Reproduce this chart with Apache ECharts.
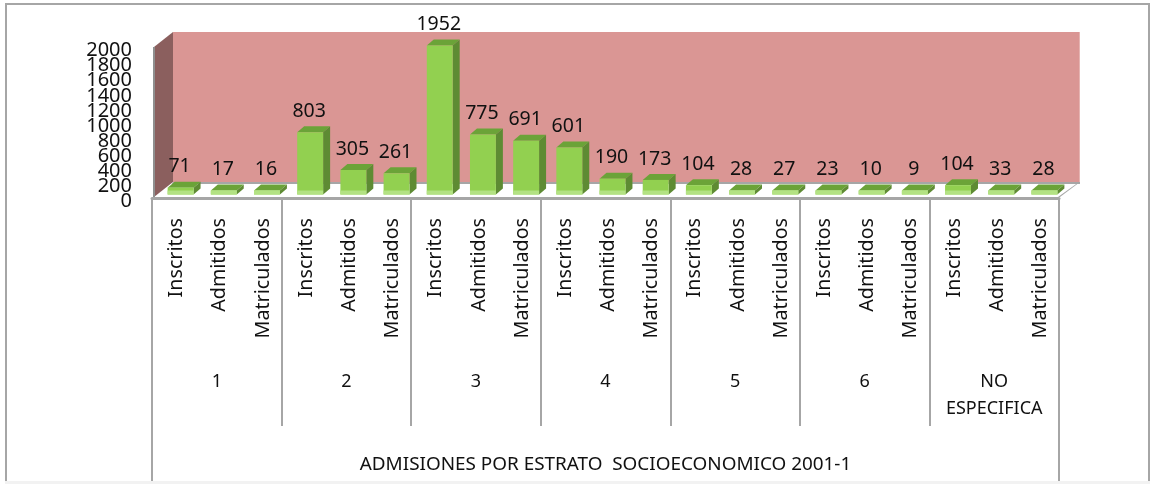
<!DOCTYPE html>
<html><head><meta charset="utf-8">
<style>html,body{margin:0;padding:0;background:#fff}#c{width:1154px;height:484px}</style>
<script src="https://cdn.jsdelivr.net/npm/echarts@6/dist/echarts.min.js"></script>
</head><body><div id="c"></div>
<script>
var measures = ['Inscritos','Admitidos','Matriculados'];
var strata = ['1','2','3','4','5','6','NO\nESPECIFICA'];
var chartTitle = 'ADMISIONES POR ESTRATO  SOCIOECONOMICO 2001-1';
var values = [71,17,16, 803,305,261, 1952,775,691, 601,190,173, 104,28,27, 23,10,9, 104,33,28];
var categories = [];
strata.forEach(function(){ measures.forEach(function(m){ categories.push(m); }); });

var FONT = '"Noto Sans", sans-serif';
var TXT = '#111';
var GREY = '#A6A6A6';
var DX = 7, DY = 6, SHIFT_X = 7, BASE = 5, FOOT = 3.5, MIN_FRONT = 4, WALL_X = 21, WALL_Y = 15;

function poly(pts, fill){ return {type:'polygon', shape:{points:pts}, style:{fill:fill}}; }

function renderWalls(params, api){
  var c = params.coordSys;
  var l = c.x + 2, r = c.x + c.width, t = c.y, b = c.y + c.height - 1;
  return {type:'group', children:[
    poly([[l+WALL_X-2,t-WALL_Y],[r+WALL_X,t-WALL_Y],[r+WALL_X,b-WALL_Y],[l+WALL_X-2,b-WALL_Y]], '#DA9694'),
    poly([[r+WALL_X-1,t-WALL_Y],[r+WALL_X,t-WALL_Y],[r+WALL_X,b-WALL_Y],[r+WALL_X-1,b-WALL_Y]], '#E6B4B2'),
    poly([[l,t],[l+WALL_X-2,t-WALL_Y],[l+WALL_X-2,b-WALL_Y],[l,b]], '#8B5F5E'),
    poly([[l-1,t],[l+1,t],[l+1,b],[l-1,b]], '#8F8F8F'),
    poly([[l+WALL_X-2,b-WALL_Y],[r+WALL_X,b-WALL_Y],[r+WALL_X,b-WALL_Y+2],[l+WALL_X-3,b-WALL_Y+2]], GREY),
    poly([[r-1,b],[r+WALL_X-1,b-WALL_Y],[r+WALL_X,b-WALL_Y],[r+1,b]], GREY)
  ]};
}

function renderBar(params, api){
  var i = api.value(0), v = api.value(1);
  var p = api.coord([i, v]), z = api.coord([i, 0]);
  var w = api.size([1,0])[0] * 0.6;
  var x0 = p[0] - w/2 + SHIFT_X, x1 = x0 + w;
  var bot = z[1] - FOOT;
  var top = Math.min(p[1] - BASE, bot - MIN_FRONT);
  var strip = 4;
  return {type:'group', children:[
    poly([[x0,top],[x0+DX,top-DY],[x1+DX,top-DY],[x1,top]], '#6BA338'),
    poly([[x1,top],[x1+DX,top-DY],[x1+DX,bot-DY],[x1,bot]], '#5E8B33'),
    {type:'rect', shape:{x:x0,y:top,width:w,height:bot-top}, style:{fill:'#92D050'}},
    {type:'rect', shape:{x:x0,y:bot-strip,width:w,height:strip}, style:{fill:'#B3E283'}},
    {type:'text', x:(x0+x1)/2 - 1, y:top-21, style:{text:String(v), fill:TXT, font:'19.5px '+FONT, align:'center', verticalAlign:'middle'}}
  ]};
}

var yLabel = {margin:20, color:TXT, fontFamily:FONT, fontSize:20, lineHeight:7, verticalAlign:'top', hideOverlap:false,
  formatter:function(v){return String(v);}};

var chart = echarts.init(document.getElementById('c'), null, {renderer:'canvas'});
chart.setOption({
  animation:false,
  backgroundColor:'#fff',
  graphic:[
    {type:'rect', z:-1, silent:true, shape:{x:6,y:4,width:1143,height:478}, style:{fill:'none',stroke:'#A6A6A6',lineWidth:2}},
    {type:'rect', z:0, silent:true, shape:{x:5,y:481,width:1145,height:3}, style:{fill:'#F2F2F2'}}
  ],
  grid:{left:152, top:47, width:907, height:151, containLabel:false},
  xAxis:[
    {type:'category', gridIndex:0, data:categories, position:'bottom',
     axisLine:{show:true, lineStyle:{color:GREY,width:3}}, axisTick:{show:false},
     axisLabel:{interval:0, rotate:90, margin:20, color:TXT, fontFamily:FONT, fontSize:19.7, lineHeight:6, verticalAlign:'top'}},
    {type:'category', gridIndex:0, data:strata, position:'bottom',
     axisLine:{show:false}, axisTick:{show:true, length:228, lineStyle:{color:GREY,width:2}},
     axisLabel:{interval:0, margin:170, verticalAlign:'top', lineHeight:27, color:TXT, fontFamily:FONT, fontSize:18}},
    {type:'category', gridIndex:0, data:[chartTitle], position:'bottom',
     axisLine:{show:false}, axisTick:{show:true, length:283, lineStyle:{color:GREY,width:2}},
     axisLabel:{interval:0, margin:257, verticalAlign:'top', color:TXT, fontFamily:FONT, fontSize:18.9}}
  ],
  yAxis:[
    {type:'value', min:0, max:2000, interval:200,
     axisLine:{show:false}, axisTick:{show:false}, splitLine:{show:false},
     axisLabel:Object.assign({showMinLabel:false, showMaxLabel:false}, yLabel)},
    {type:'value', position:'left', min:0, max:2000, interval:2000,
     axisLine:{show:false}, axisTick:{show:false}, splitLine:{show:false},
     axisLabel:Object.assign({showMinLabel:true, showMaxLabel:true}, yLabel)}
  ],
  series:[
    {type:'custom', xAxisIndex:0, yAxisIndex:0, z:1, silent:true, clip:false, renderItem:renderWalls, data:[[0,0]]},
    {type:'custom', xAxisIndex:0, yAxisIndex:0, z:2, silent:true, clip:false, renderItem:renderBar,
     encode:{x:0,y:1}, data:values.map(function(v,i){return [i,v];})}
  ]
});
</script></body></html>
